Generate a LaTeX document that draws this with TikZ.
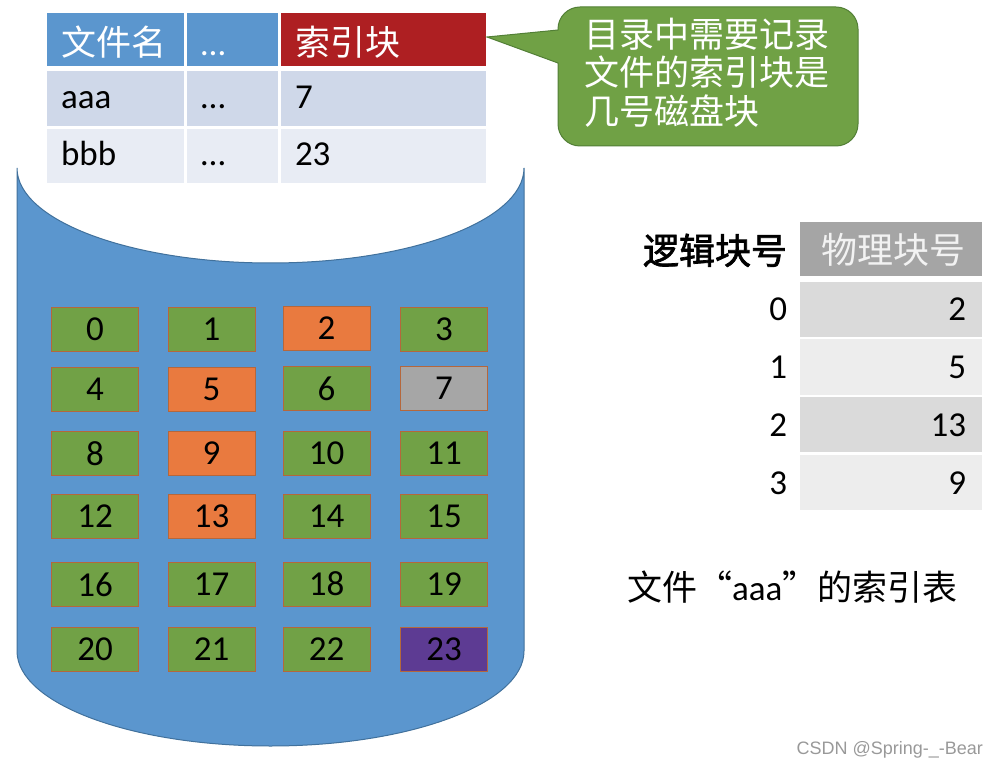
\documentclass[tikz,border=0pt]{standalone}
\usepackage{fontspec}
\setmainfont{Carlito}
\newfontfamily\cjk{Noto Sans CJK SC}
\newfontfamily\cjkb[FakeBold=2]{Noto Sans CJK SC}
\newfontfamily\wmfont{Liberation Sans}
\definecolor{cylfill}{HTML}{5B96CE}
\definecolor{cylline}{HTML}{41719C}
\definecolor{gr}{HTML}{71A146}
\definecolor{og}{HTML}{E97A3F}
\definecolor{gy}{HTML}{A6A6A6}
\definecolor{pu}{HTML}{5D3B93}
\definecolor{blkline}{HTML}{B5673C}
\definecolor{hblue}{HTML}{5B96CE}
\definecolor{hred}{HTML}{AE1F22}
\definecolor{rowa}{HTML}{CFD8E9}
\definecolor{rowb}{HTML}{E8ECF4}
\definecolor{callfill}{HTML}{70A145}
\definecolor{callline}{HTML}{527F36}
\definecolor{rhead}{HTML}{A5A5A5}
\definecolor{rheadtxt}{HTML}{F2F2F2}
\definecolor{rrowa}{HTML}{DADADA}
\definecolor{rrowb}{HTML}{EDEDED}
\definecolor{wmgray}{HTML}{999999}
\begin{document}
\begin{tikzpicture}[x=1pt,y=-1pt,
  cell/.style={inner sep=0pt, outer sep=0pt, anchor=north west, draw=none},
  blk/.style={draw=blkline, line width=0.8pt, minimum width=87pt, minimum height=44pt, inner sep=0pt,
     font=\fontsize{35}{40}\selectfont, text=black},
  f35/.style={font=\fontsize{35}{40}\selectfont},
  cj35/.style={font=\cjk\fontsize{35}{40}\selectfont},
  cj36/.style={font=\cjk\fontsize{36}{40}\selectfont},
  txt/.style={inner sep=0pt, outer sep=0pt}
]
\useasboundingbox (0,0) rectangle (999,767);

% cylinder
\path[fill=cylfill, draw=cylline, line width=1pt]
  (17,168) -- (17,651)
  arc[start angle=180, end angle=0, x radius=253.5, y radius=95]
  -- (524,168)
  arc[start angle=0, end angle=180, x radius=253.5, y radius=95]
  -- cycle;

% top directory table
\node[cell, fill=hblue, minimum width=137pt, minimum height=53pt] (h1) at (47,13) {};
\node[cell, fill=hblue, minimum width=91pt, minimum height=53pt] (h2) at (187,13) {};
\node[cell, fill=hred, minimum width=205pt, minimum height=53pt] (h3) at (281,13) {};
\node[cell, fill=rowa, minimum width=137pt, minimum height=55pt] (r11) at (47,71) {};
\node[cell, fill=rowa, minimum width=91pt, minimum height=55pt] (r12) at (187,71) {};
\node[cell, fill=rowa, minimum width=205pt, minimum height=55pt] (r13) at (281,71) {};
\node[cell, fill=rowb, minimum width=137pt, minimum height=54pt] (r21) at (47,129) {};
\node[cell, fill=rowb, minimum width=91pt, minimum height=54pt] (r22) at (187,129) {};
\node[cell, fill=rowb, minimum width=205pt, minimum height=54pt] (r23) at (281,129) {};

\node[txt, cj35, text=white, anchor=base west] (th1) at (61,56) {文件名};
\node[txt, f35, text=white, anchor=base west] (th2) at (201,56) {…};
\node[txt, cj35, text=white, anchor=base west] (th3) at (295,56) {索引块};
\node[txt, f35, anchor=base west] (t11) at (61,109) {aaa};
\node[txt, f35, anchor=base west] (t12) at (201,109) {…};
\node[txt, f35, anchor=base west] (t13) at (295,109) {7};
\node[txt, f35, anchor=base west] (t21) at (61,166) {bbb};
\node[txt, f35, anchor=base west] (t22) at (201,166) {…};
\node[txt, f35, anchor=base west] (t23) at (295,166) {23};

% callout
\path[fill=callfill, draw=callline, line width=1pt]
  (558,63) -- (487,37) -- (558,30) [rounded corners=22pt] -- (558,7) -- (858,7) -- (858,146) -- (558,146) [sharp corners] -- (558,100) -- cycle;
\node[txt, cj35, text=white, anchor=base west] (c1) at (584,48) {目录中需要记录};
\node[txt, cj35, text=white, anchor=base west] (c2) at (584,86) {文件的索引块是};
\node[txt, cj35, text=white, anchor=base west] (c3) at (584,125) {几号磁盘块};

% disk blocks
\foreach \n/\cx/\cy/\f in {
  0/95/329/gr, 1/211.5/329/gr, 2/326.5/328/og, 3/444/329/gr,
  4/95/389.5/gr, 5/211.5/389.5/og, 6/326.5/388.5/gr, 7/444/388.5/gy,
  8/95/453.5/gr, 9/211.5/453.5/og, 10/326.5/453/gr, 11/444/453/gr,
  12/95/516.5/gr, 13/211.5/516.5/og, 14/326.5/516/gr, 15/444/516/gr,
  16/95/584.5/gr, 17/211.5/584.5/gr, 18/326.5/584/gr, 19/444/584/gr,
  20/95/649.5/gr, 21/211.5/649.5/gr, 22/326.5/649/gr, 23/444/649/pu}
  \node[blk, fill=\f] (b\n) at (\cx,\cy) {\n};

% index table
\node[txt, font=\cjkb\fontsize{36}{40}\selectfont, anchor=base east] (lh) at (787,264) {逻辑块号};
\node[cell, fill=rhead, minimum width=182pt, minimum height=54pt] (rh) at (800,222) {};
\node[txt, cj36, text=rheadtxt, anchor=base east] (rht) at (965,264) {物理块号};
\node[cell, fill=rrowa, minimum width=182pt, minimum height=55pt] (ri0) at (800,282) {};
\node[cell, fill=rrowb, minimum width=182pt, minimum height=55pt] (ri1) at (800,339.5) {};
\node[cell, fill=rrowa, minimum width=182pt, minimum height=55pt] (ri2) at (800,397) {};
\node[cell, fill=rrowb, minimum width=182pt, minimum height=55pt] (ri3) at (800,454.5) {};
\foreach \i/\v/\yb in {0/2/321, 1/5/378, 2/13/436, 3/9/494}{
  \node[txt, f35, anchor=base east] (l\i) at (787,\yb) {\i};
  \node[txt, f35, anchor=base east] (p\i) at (966,\yb) {\v};
}

% caption
\node[txt, f35, anchor=base west] (cap) at (627,600) {{\cjk 文件“}aaa{\cjk ”的索引表}};

% watermark
\node[txt, font=\wmfont\fontsize{18}{21}\selectfont, text=wmgray, anchor=base east] (wm) at (983,754) {CSDN @Spring-\_-Bear};
\end{tikzpicture}
\end{document}
